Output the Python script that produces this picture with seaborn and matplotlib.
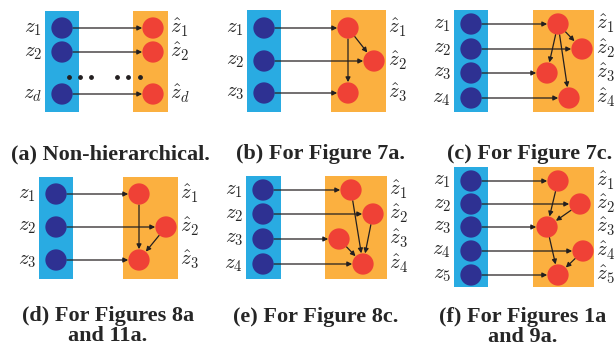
import numpy as np
import pandas as pd
import matplotlib
matplotlib.use("Agg")
import matplotlib.pyplot as plt
from matplotlib.patches import Rectangle
import seaborn as sns

# 1. Data: one entry per panel (a)-(f)
captions = [["(a) Non-hierarchical."], ["(b) For Figure 7a."], ["(c) For Figure 7c."],
            ["(d) For Figures 8a", "and 11a."], ["(e) For Figure 8c."], ["(f) For Figures 1a", "and 9a."]]
node_labels = [["1", "2", "d"], ["1", "2", "3"], ["1", "2", "3", "4"],
               ["1", "2", "3"], ["1", "2", "3", "4"], ["1", "2", "3", "4", "5"]]
node_rows = [[28, 52, 94], [28, 61, 93], [24, 49, 73, 98],
             [194, 227, 260], [190, 214, 239, 264], [181, 204, 227, 251, 275]]
red_x = [[153, 153, 153], [348, 374, 348], [558, 582, 547, 569],
         [139, 166, 139], [351, 373, 339, 363], [558, 580, 547, 583, 558]]
# edges between latent nodes (parent -> child)
edges = [[], [(0, 1), (0, 2)], [(0, 1), (0, 2), (0, 3)],
         [(0, 2), (1, 2)], [(0, 3), (1, 3), (2, 3)], [(0, 2), (1, 2), (2, 4), (3, 4)]]

# 2. Layout of each panel (boxes and captions)
blue_x = [62, 264, 471, 56, 263, 471]
blue_box = [(45, 79), (247, 281), (454, 488), (39, 73), (246, 281), (454, 488)]
orange_box = [(133, 168), (331, 386), (533, 594), (123, 178), (325, 387), (533, 594)]
box_y = [(11, 112), (10, 112), (10, 112), (177, 279), (176, 279), (167, 287)]
caption_xy = [(110, 154), (320, 154), (530, 154), (108, 316), (316, 317), (523, 317)]
caption_step = 20

BLUE_BOX, BLUE_NODE = "#29ABE2", "#2E3192"
ORANGE_BOX, RED_NODE = "#FBB040", "#EF4136"

sns.set_theme(style="white")
plt.rcParams["mathtext.fontset"] = "cm"
plt.rcParams["font.family"] = ["Liberation Serif", "DejaVu Serif"]

fig = plt.figure(figsize=(6.15, 3.52), dpi=100)
ax = fig.add_axes([0, 0, 1, 1])
ax.set_xlim(0, 615)
ax.set_ylim(352, 0)
ax.axis("off")

# node table for seaborn
rows = []
for p in range(6):
    for i, y in enumerate(node_rows[p]):
        rows.append({"x": blue_x[p], "y": y, "kind": "z"})
        rows.append({"x": red_x[p][i], "y": y, "kind": "zhat"})
nodes = pd.DataFrame(rows)

arrow = dict(arrowstyle="-|>", lw=0.9, color="#231F20", shrinkA=7.8, shrinkB=7.8,
             mutation_scale=7)

for p in range(6):
    y0, y1 = box_y[p]
    ax.add_patch(Rectangle((blue_box[p][0], y0), blue_box[p][1] - blue_box[p][0], y1 - y0,
                           facecolor=BLUE_BOX, edgecolor="none", zorder=0))
    ax.add_patch(Rectangle((orange_box[p][0], y0), orange_box[p][1] - orange_box[p][0], y1 - y0,
                           facecolor=ORANGE_BOX, edgecolor="none", zorder=0))
    for i, y in enumerate(node_rows[p]):
        ax.annotate("", xy=(red_x[p][i], y), xytext=(blue_x[p], y), arrowprops=arrow, zorder=3)
        ax.text(blue_box[p][0] - 3, y, r"$z_{%s}$" % node_labels[p][i], fontsize=15,
                ha="right", va="center")
        ax.text(orange_box[p][1] + 2, y, r"$\hat{z}_{%s}$" % node_labels[p][i], fontsize=15,
                ha="left", va="center")
    for a, b in edges[p]:
        ax.annotate("", xy=(red_x[p][b], node_rows[p][b]),
                    xytext=(red_x[p][a], node_rows[p][a]), arrowprops=arrow, zorder=3)
    for k, line in enumerate(captions[p]):
        ax.text(caption_xy[p][0], caption_xy[p][1] + k * caption_step, line, fontsize=16,
                fontweight="bold", ha="center", va="center")

sns.scatterplot(data=nodes, x="x", y="y", hue="kind", palette={"z": BLUE_NODE, "zhat": RED_NODE},
                s=235, linewidth=0, legend=False, ax=ax, zorder=4)

# ellipsis dots in panel (a)
dots_x = [69, 80, 91, 117, 128, 140]
ax.scatter(dots_x, [77] * len(dots_x), s=6, color="#231F20", zorder=4)

ax.set_xlim(0, 615)
ax.set_ylim(352, 0)
fig.savefig("out.png", dpi=100)
